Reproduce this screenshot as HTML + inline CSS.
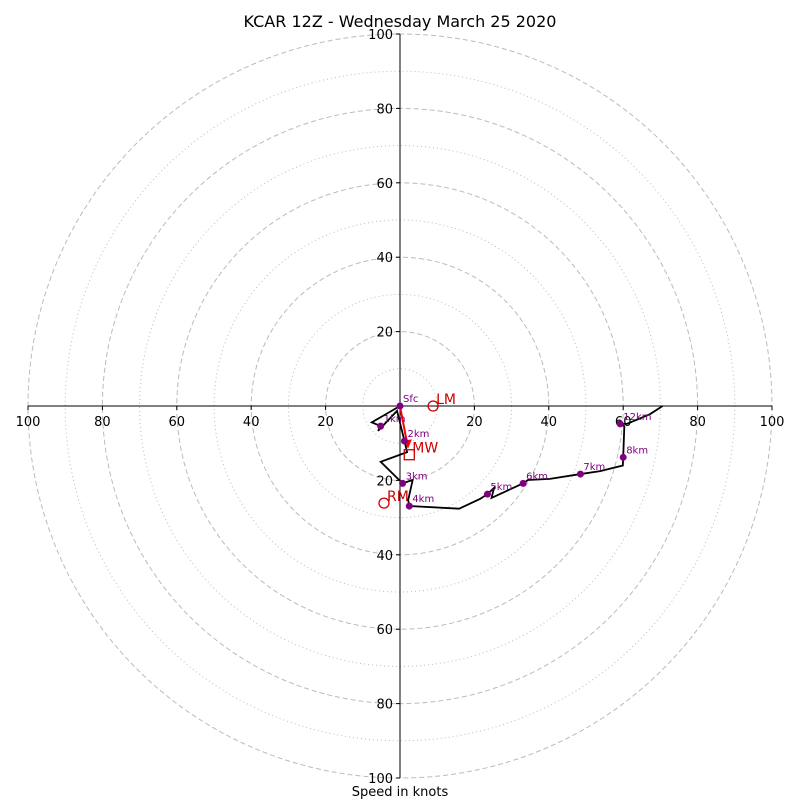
<!DOCTYPE html>
<html><head><meta charset="utf-8"><style>
body{margin:0;background:#fff}
svg{display:block;font-family:"DejaVu Sans","Liberation Sans",sans-serif}
</style></head><body>
<svg id="chart" width="800" height="800" viewBox="0 0 800 800">
<rect width="800" height="800" fill="#fff"/>
<text x="400" y="27" text-anchor="middle" font-size="16">KCAR 12Z - Wednesday March 25 2020</text>
<text x="400" y="796" text-anchor="middle" font-size="13">Speed in knots</text>
<g id="grid"></g><g id="axes"></g><g id="plot"></g>
</svg>
<script>
const uKt=[0,-7.6,-5.2,-5.9,-0.8,1.2,1.9,-5.2,0.7,3.4,2.2,2.5,15.9,21.5,23.5,25.3,24.6,33.1,34.4,40.3,48.5,53.8,59.9,60.0,60.3,59.2,61.0,67.2,70.6];
const vKt=[0,-4.4,-5.4,-6.7,-1.3,-9.4,-12.4,-15.0,-20.8,-19.9,-25.3,-26.9,-27.6,-25.0,-23.7,-22.0,-24.7,-20.8,-19.9,-19.6,-18.3,-17.5,-16.0,-13.8,-5.4,-4.8,-4.8,-2.2,0];
const heightLabels=["Sfc","1km","2km","3km","4km","5km","6km","7km","8km","12km"];
const heightIdx=[0,2,5,8,11,14,17,20,23,25];
const tickVals=[20,40,60,80,100];
const ringVals=[10,20,30,40,50,60,70,80,90,100];
const mw=[2.5,-13.1], lm=[8.9,0], rm=[-4.3,-26.1];
const cx=400,cy=406,scale=3.72;
const X=u=>cx+u*scale, Y=v=>cy-v*scale;
const NS="http://www.w3.org/2000/svg";
function mk(tag,attrs,parent){const e=document.createElementNS(NS,tag);for(const k in attrs)e.setAttribute(k,attrs[k]);parent.appendChild(e);return e;}
const grid=document.getElementById('grid'),axes=document.getElementById('axes'),plot=document.getElementById('plot');
ringVals.forEach(r=>{
 const c=mk('circle',{cx:cx,cy:cy,r:r*scale,fill:'none',stroke:'#bbb','stroke-width':1,'stroke-dasharray':r%20===0?'5,3':'1,3'},grid);
 
 
});
const ax=mk('line',{x1:X(-100),y1:cy,x2:X(100),y2:cy,stroke:'#000','stroke-width':1},axes);


const ay=mk('line',{x1:cx,y1:Y(100),x2:cx,y2:Y(-100),stroke:'#000','stroke-width':1},axes);


tickVals.forEach(t=>{
 [-1,1].forEach(s=>{
  mk('line',{x1:X(s*t),y1:cy,x2:X(s*t),y2:cy+4,stroke:'#000'},axes);
  const tx=mk('text',{x:X(s*t),y:cy+20,'text-anchor':'middle','font-size':13},axes);
  tx.textContent=t;
  
  
  mk('line',{x1:cx-4,y1:Y(s*t),x2:cx,y2:Y(s*t),stroke:'#000'},axes);
  const ty=mk('text',{x:cx-7,y:Y(s*t)+5,'text-anchor':'end','font-size':13},axes);
  ty.textContent=t;
  
  
 });
});
const pts=uKt.map((u,i)=>X(u)+','+Y(vKt[i])).join(' ');
const pl=mk('polyline',{points:pts,fill:'none',stroke:'#000','stroke-width':1.8},plot);


// red arrow to mean wind
const ar=mk('line',{x1:X(0),y1:Y(0),x2:X(mw[0]*0.85),y2:Y(mw[1]*0.85),stroke:'#f00','stroke-width':2},plot);


const ah=mk('polygon',{points:`${X(mw[0]*0.85)-3},${Y(mw[1]*0.85)-7} ${X(mw[0]*0.85)+4},${Y(mw[1]*0.85)-8} ${X(mw[0]*0.87)},${Y(mw[1]*0.87)}`,fill:'#f00'},plot);


heightIdx.forEach((idx,k)=>{
 const d=mk('circle',{cx:X(uKt[idx]),cy:Y(vKt[idx]),r:3.5,fill:'purple'},plot);
 
 
 const t=mk('text',{x:X(uKt[idx])+3,y:Y(vKt[idx])-4,'font-size':10,fill:'purple'},plot);
 t.textContent=heightLabels[k];
 
 
});
const sq=mk('rect',{x:X(mw[0])-5,y:Y(mw[1])-5,width:10,height:10,fill:'none',stroke:'#c00','stroke-width':1.3},plot);


const sqt=mk('text',{x:X(mw[0])+3,y:Y(mw[1])-2,'font-size':14,fill:'#c00'},plot);sqt.textContent='MW';


[[lm,'LM','left-mover'],[rm,'RM','right-mover']].forEach(([p,l,n])=>{
 const c=mk('circle',{cx:X(p[0]),cy:Y(p[1]),r:5,fill:'none',stroke:'#c00','stroke-width':1.3},plot);
 
 
 const t=mk('text',{x:X(p[0])+3,y:Y(p[1])-2,'font-size':14,fill:'#c00'},plot);t.textContent=l;
 
 
});
</script>
</body></html>
